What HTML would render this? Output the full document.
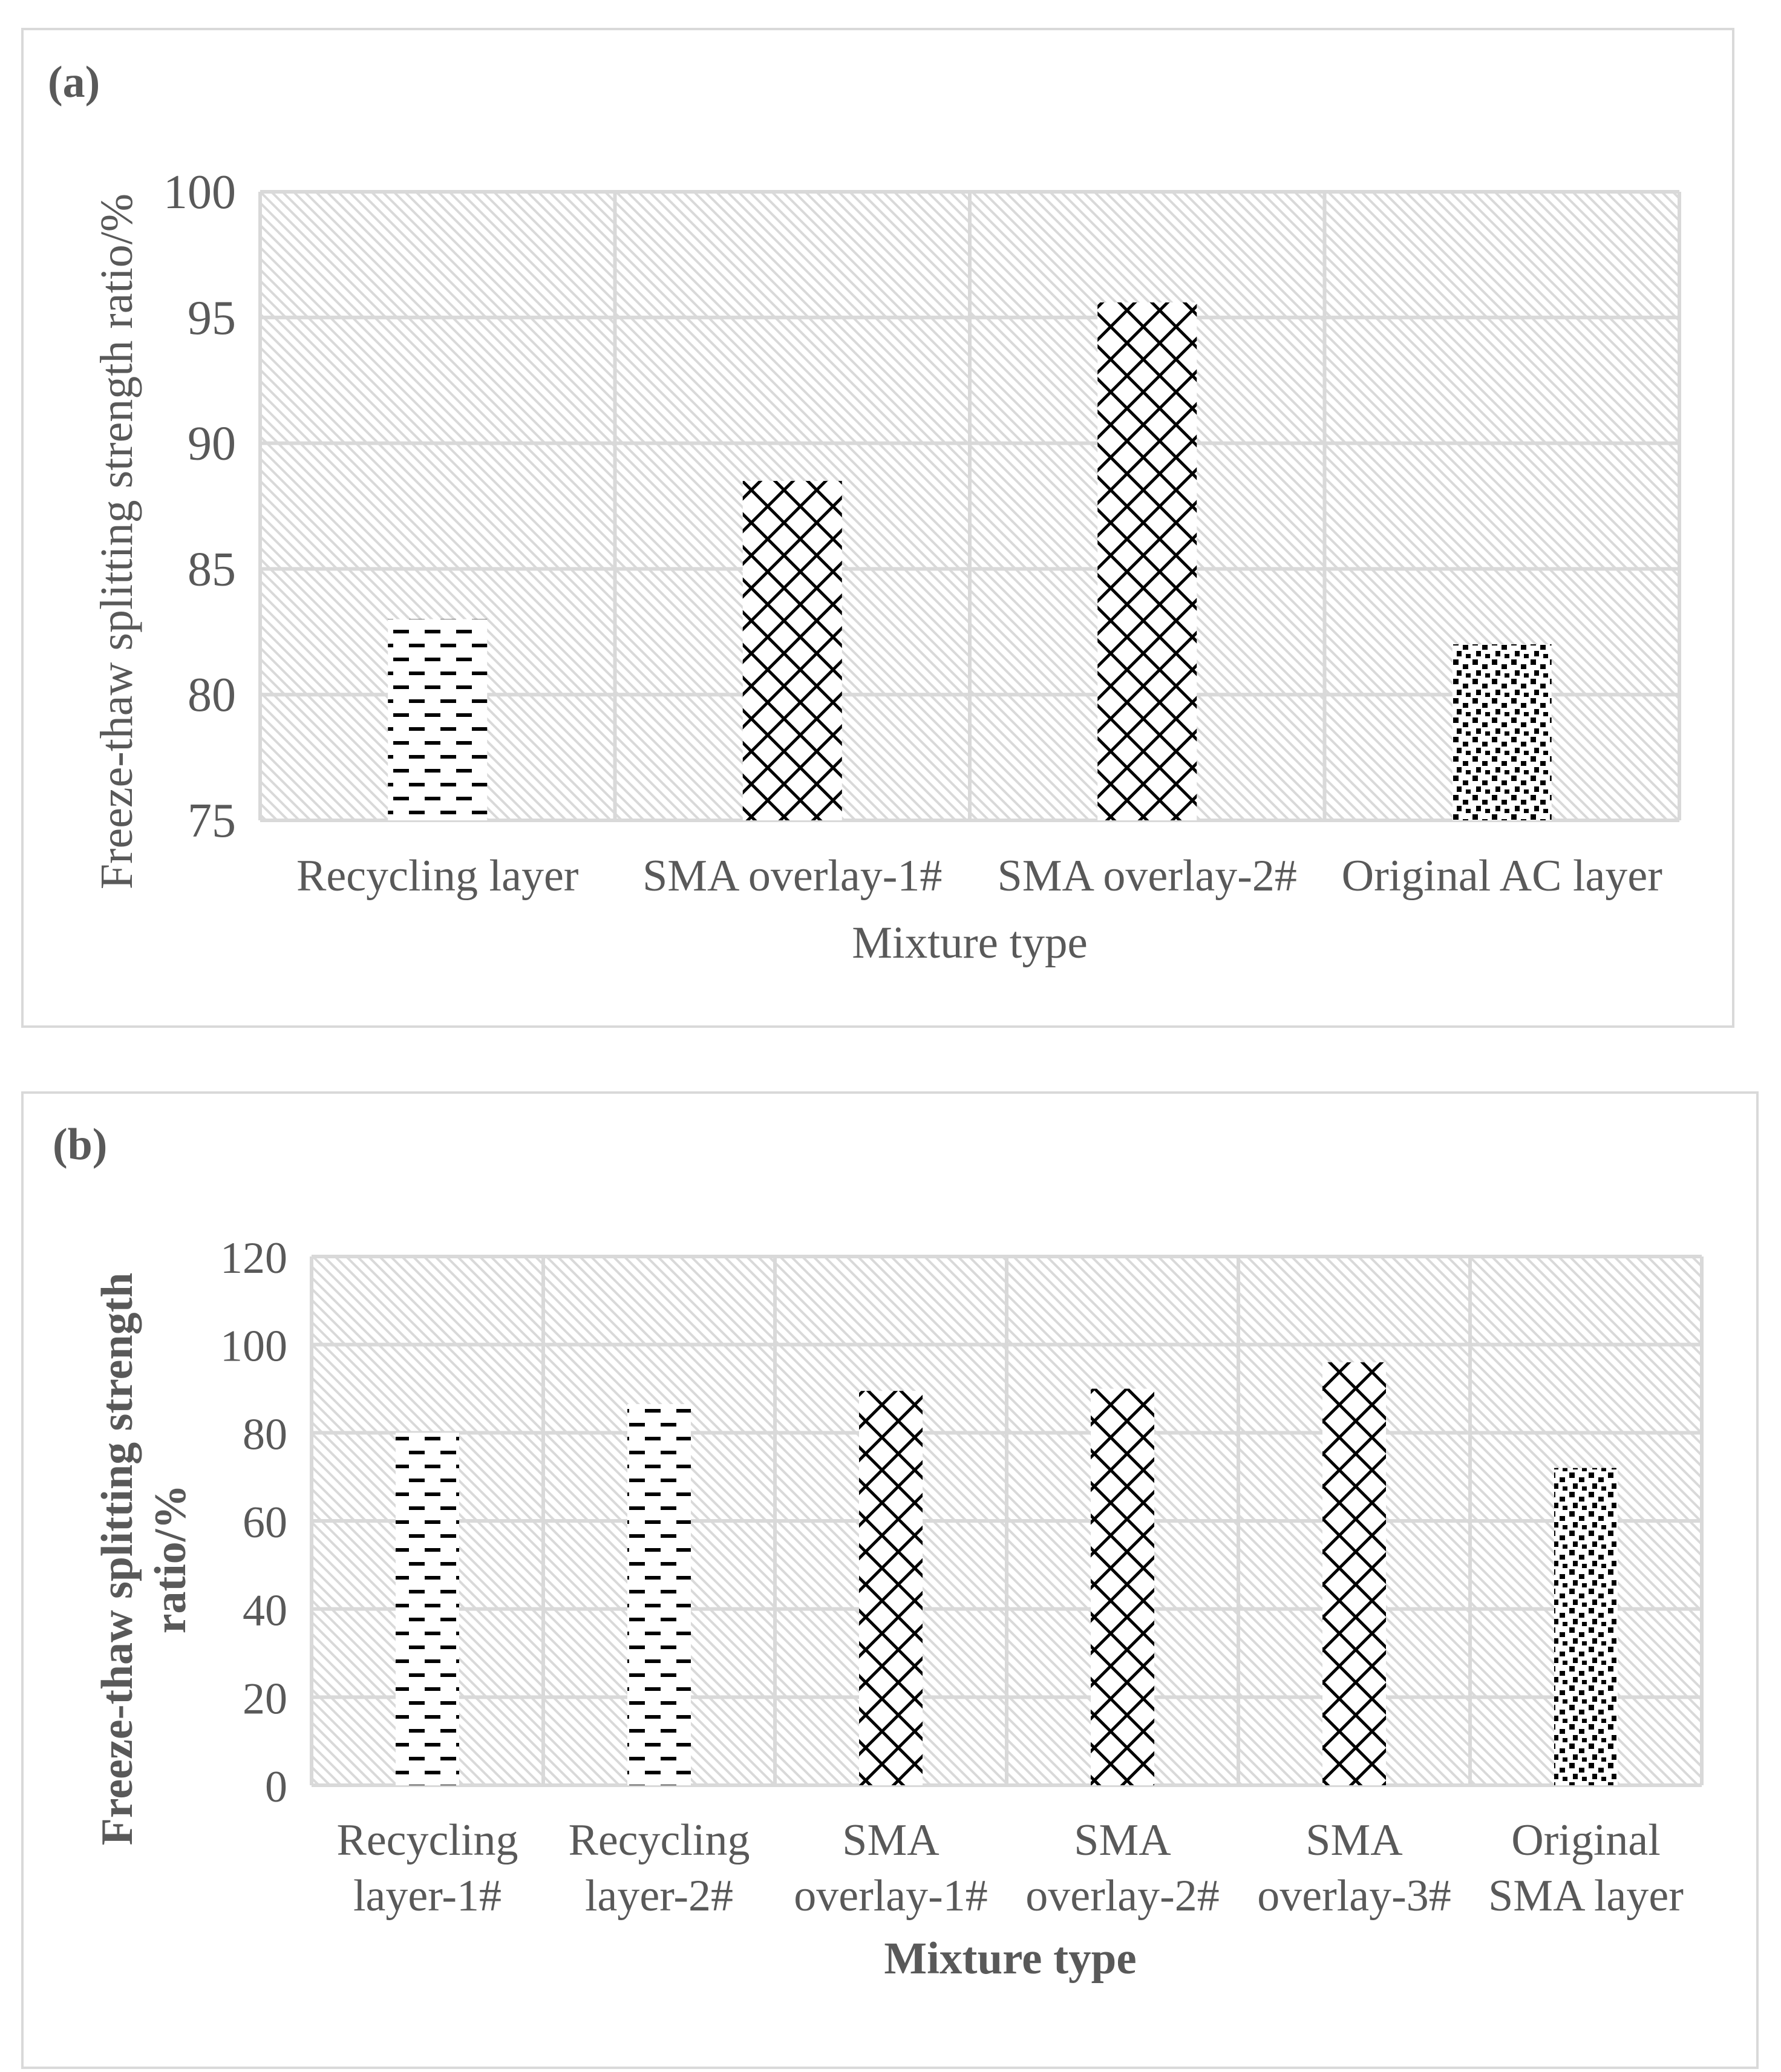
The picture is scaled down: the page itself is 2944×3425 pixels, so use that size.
<!DOCTYPE html>
<html><head><meta charset="utf-8"><style>
html,body{margin:0;padding:0;background:#fff}
svg{display:block}
text{font-family:"Liberation Serif",serif;fill:#595959}
</style></head><body>
<svg id="s" width="2944" height="3425" viewBox="0 0 2944 3425" xmlns="http://www.w3.org/2000/svg">
<defs>
<pattern id="bg" patternUnits="userSpaceOnUse" width="13" height="13" patternTransform="rotate(-45)">
<rect width="13" height="13" fill="#fff"/><rect width="4" height="13" fill="#d9d9d9"/>
</pattern>
<pattern id="dash" patternUnits="userSpaceOnUse" width="52" height="46">
<rect width="52" height="46" fill="#fff"/><rect x="0" y="6" width="26" height="6" fill="#000"/><rect x="26" y="29" width="26" height="6" fill="#000"/>
</pattern>
<pattern id="diam" patternUnits="userSpaceOnUse" width="54" height="54">
<rect width="54" height="54" fill="#fff"/><path d="M0 0L54 54M54 0L0 54" stroke="#000" stroke-width="5"/>
</pattern>
<pattern id="dots" patternUnits="userSpaceOnUse" width="32" height="32">
<rect width="32" height="32" fill="#fff"/><rect x="2" y="2" width="9" height="9" fill="#000"/><rect x="18" y="10" width="9" height="8" fill="#000"/><rect x="8" y="20" width="8" height="9" fill="#000"/><rect x="23" y="25" width="8" height="7" fill="#000"/>
</pattern>
</defs>
<rect x="37" y="48" width="2828" height="1649" fill="#fff" stroke="#d9d9d9" stroke-width="4"/>
<rect x="37" y="1806" width="2868" height="1612" fill="#fff" stroke="#d9d9d9" stroke-width="4"/>
<text x="79" y="160" font-size="74" font-weight="bold">(a)</text>
<text x="87" y="1916" font-size="74" font-weight="bold">(b)</text>
<g id="ga"></g><g id="gb"></g>
</svg>
<script>
const catsA=["Recycling layer","SMA overlay-1#","SMA overlay-2#","Original AC layer"];
const valsA=[83,88.5,95.6,82];
const ticksA=[75,80,85,90,95,100];
const patsA=["dash","diam","diam","dots"];
const catsB=[["Recycling","layer-1#"],["Recycling","layer-2#"],["SMA","overlay-1#"],["SMA","overlay-2#"],["SMA","overlay-3#"],["Original","SMA layer"]];
const valsB=[80,86.5,89.5,90,96,72];
const ticksB=[0,20,40,60,80,100,120];
const patsB=["dash","dash","diam","diam","diam","dots"];
const NS="http://www.w3.org/2000/svg";
function mk(p,t,a,txt){const e=document.createElementNS(NS,t);for(const k in a)e.setAttribute(k,a[k]);if(txt!==undefined)e.textContent=txt;p.appendChild(e);return e;}
function chart(g,o){
 const {x0,x1,y0,y1,cats,vals,ticks,pats,bw,tf,px}=o;
 const mn=ticks[0],mx=ticks[ticks.length-1];
 const Y=v=>y1-(v-mn)/(mx-mn)*(y1-y0);
 const cw=(x1-x0)/cats.length;
 const X=i=>x0+cw*(i+0.5);
 const bg=mk(g,'rect',{x:x0,y:y0,width:x1-x0,height:y1-y0,fill:'url(#bg)'});
 
 
 ticks.forEach(t=>{
  const l=mk(g,'line',{x1:x0,x2:x1,y1:Y(t),y2:Y(t),stroke:'#d9d9d9','stroke-width':6});
  
  
  const tx=mk(g,'text',{x:x0-40,y:Y(t)+27,'text-anchor':'end','font-size':tf},String(t));
  
  
 });
 for(let i=0;i<=cats.length;i++){
  const l=mk(g,'line',{x1:x0+cw*i,x2:x0+cw*i,y1:y0,y2:y1,stroke:'#d9d9d9','stroke-width':6});
  
  
 }
 vals.forEach((v,i)=>{
  const r=mk(g,'rect',{x:X(i)-bw/2,y:Y(v),width:bw,height:y1-Y(v),fill:'url(#'+pats[i]+')'});
  
  
 });
 return {X};
}
const ga=document.getElementById('ga');
const A=chart(ga,{x0:430,x1:2776,y0:317,y1:1356,cats:catsA,vals:valsA,ticks:ticksA,pats:patsA,bw:164,tf:80,px:'a-'});
catsA.forEach((c,i)=>{const t=mk(ga,'text',{x:A.X(i),y:1472,'text-anchor':'middle','font-size':74},c);
 
 });
let t=mk(ga,'text',{x:1603,y:1583,'text-anchor':'middle','font-size':75},'Mixture type');


t=mk(ga,'text',{x:0,y:0,'text-anchor':'middle','font-size':76,transform:'translate(218,895) rotate(-90)'},'Freeze-thaw splitting strength ratio/%');


const gb=document.getElementById('gb');
const B=chart(gb,{x0:515,x1:2813,y0:2077,y1:2951,cats:catsB,vals:valsB,ticks:ticksB,pats:patsB,bw:105,tf:74,px:'b-'});
catsB.forEach((c,i)=>{const t=mk(gb,'text',{x:B.X(i),y:3066,'text-anchor':'middle','font-size':74});
 
 
 mk(t,'tspan',{x:B.X(i)},c[0]);mk(t,'tspan',{x:B.X(i),dy:92},c[1]);});
t=mk(gb,'text',{x:1670,y:3262,'text-anchor':'middle','font-size':75,'font-weight':'bold'},'Mixture type');


t=mk(gb,'text',{x:0,y:0,'text-anchor':'middle','font-size':74,'font-weight':'bold',transform:'translate(218,2577) rotate(-90)'},'Freeze-thaw splitting strength');


t=mk(gb,'text',{x:0,y:0,'text-anchor':'middle','font-size':74,'font-weight':'bold',transform:'translate(306,2577) rotate(-90)'},'ratio/%');


</script>
</body></html>
